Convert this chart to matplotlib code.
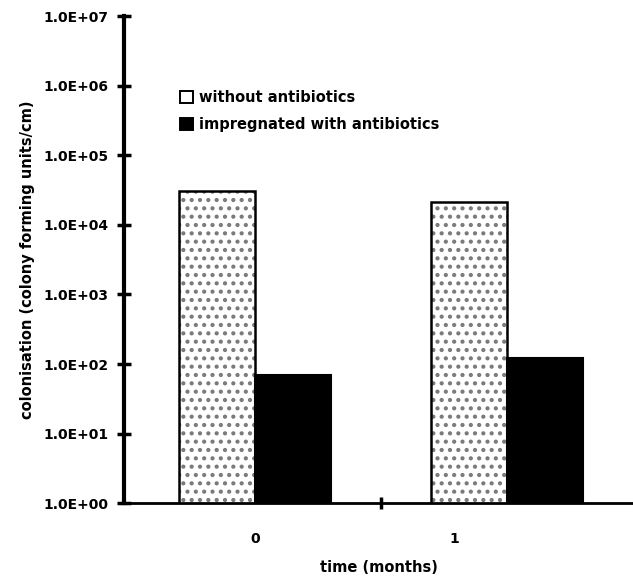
import numpy as np
import matplotlib
matplotlib.use('Agg')
import matplotlib.pyplot as plt
from matplotlib.ticker import FixedLocator

# colonisation values (colony forming units/cm)
months = ['0', '1']
without_ab = [3.1e4, 2.1e4]
with_ab = [69, 122]
series_labels = ['without antibiotics', 'impregnated with antibiotics']
ytick_vals = [1e0, 1e1, 1e2, 1e3, 1e4, 1e5, 1e6, 1e7]
ytick_labels = ['1.0E+00', '1.0E+01', '1.0E+02', '1.0E+03',
                '1.0E+04', '1.0E+05', '1.0E+06', '1.0E+07']


def main():
    plt.rcParams['font.family'] = ['DejaVu Sans']
    plt.rcParams['font.weight'] = 'bold'
    plt.rcParams['hatch.linewidth'] = 1.8

    fig = plt.figure(figsize=(6.33, 5.77), dpi=100)
    ax = fig.add_axes([0.196, 0.128, 0.804, 0.844])

    x = np.arange(len(months))
    w = 0.3
    # dotted fill first (grey dots), then the black outline on top
    ax.bar(x - w / 2, without_ab, width=w, facecolor='white', edgecolor='#7a7a7a',
           hatch='..', linewidth=0)
    ax.bar(x - w / 2, without_ab, width=w, fill=False, edgecolor='black',
           linewidth=1.8, label=series_labels[0])
    ax.bar(x + w / 2, with_ab, width=w, facecolor='black', edgecolor='black',
           linewidth=1.5, label=series_labels[1])

    ax.set_yscale('log')
    ax.set_ylim(1, 1e7)
    ax.set_xlim(-0.52, 1.5)
    ax.set_yticks(ytick_vals)
    ax.set_yticklabels(ytick_labels)
    ax.yaxis.set_minor_locator(FixedLocator([]))

    # "1" label sits a bit left of the group centre in the original
    ax.set_xticks([0, 0.79])
    ax.set_xticklabels(months)
    ax.xaxis.set_minor_locator(FixedLocator([0.5]))
    ax.tick_params(axis='x', which='major', length=0, pad=21, labelsize=10)
    ax.tick_params(axis='x', which='minor', direction='inout', length=9, width=2.5)
    ax.tick_params(axis='y', which='major', direction='inout', length=10, width=2.5,
                   labelsize=10, pad=6)

    for side in ['top', 'right']:
        ax.spines[side].set_visible(False)
    ax.spines['left'].set_linewidth(3)
    ax.spines['bottom'].set_linewidth(2)

    ax.set_ylabel('colonisation (colony forming units/cm)', fontsize=10.5,
                  fontweight='bold', labelpad=6)
    ax.set_xlabel('time (months)', fontsize=10.5, fontweight='bold', labelpad=10)

    leg = ax.legend(loc='upper left', bbox_to_anchor=(0.085, 0.875), frameon=False,
                    handlelength=0.85, handleheight=0.85, handletextpad=0.4,
                    labelspacing=0.8, fontsize=10.5)
    leg.legend_handles[0].set_facecolor('#e6e6e6')
    for h in leg.legend_handles:
        h.set_linewidth(1.4)

    fig.savefig('out.png', dpi=100)


if __name__ == '__main__':
    main()
